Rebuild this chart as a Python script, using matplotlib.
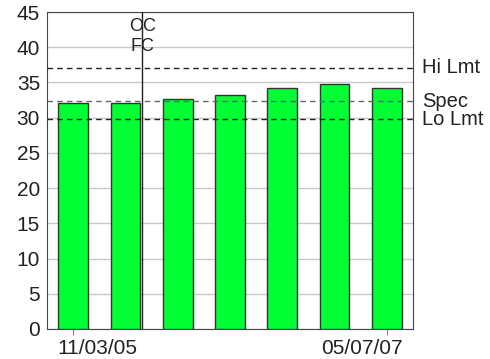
import matplotlib
matplotlib.use("Agg")
import matplotlib.pyplot as plt
from matplotlib.transforms import ScaledTranslation

plt.rcParams['font.family'] = ['Liberation Sans', 'DejaVu Sans']

values = [32.1, 32.1, 32.6, 33.2, 34.2, 34.75, 34.2]
tick_labels = {0: "11/03/05", 6: "05/07/07"}
hi_lmt = 37.1
spec = 32.3
lo_lmt = 29.8
oc_fc_x = 1.32

fig = plt.figure(figsize=(4.9, 3.59), dpi=100)
ax = fig.add_axes([47/490, 1-329/359, 366/490, 317/359])

x = list(range(len(values)))
ax.bar(x, values, width=0.57, color='#00ff33', edgecolor='#333333', linewidth=1, zorder=3)

ax.set_xlim(-0.5, 6.5)
ax.set_ylim(0, 45)
ax.set_yticks(range(0, 46, 5))
ax.yaxis.grid(True, color='#c8c8c8', linewidth=1, zorder=0)
ax.set_axisbelow(True)

ax.set_xticks(list(tick_labels.keys()))
ax.set_xticklabels(list(tick_labels.values()))
ax.tick_params(axis='both', labelsize=15, colors='#222222', length=4)
ax.tick_params(axis='x', colors='#888888', labelcolor='#222222', pad=3)
ax.tick_params(axis='y', length=0, pad=5)

xlabels = ax.get_xticklabels()
xlabels[0].set_ha('left')
xlabels[0].set_transform(xlabels[0].get_transform() + ScaledTranslation(-16/100, 0, fig.dpi_scale_trans))
xlabels[-1].set_ha('right')
xlabels[-1].set_transform(xlabels[-1].get_transform() + ScaledTranslation(16/100, 0, fig.dpi_scale_trans))

for s in ax.spines.values():
    s.set_color('#444444')

ax.axhline(hi_lmt, color='#222222', linestyle=(0, (4, 3)), linewidth=1, zorder=4)
ax.axhline(spec, color='#666666', linestyle=(0, (4, 3)), linewidth=1, zorder=4)
ax.axhline(lo_lmt, color='#222222', linestyle=(0, (4, 3)), linewidth=1, zorder=4)

ax.axvline(oc_fc_x, color='#222222', linewidth=1, zorder=5)
ax.text(oc_fc_x, 42.9, "OC", ha='center', va='center', fontsize=13, color='#222222')
ax.text(oc_fc_x, 40.1, "FC", ha='center', va='center', fontsize=13, color='#222222')

trans = ax.get_yaxis_transform()
ax.text(1.025, hi_lmt, "Hi Lmt", transform=trans, ha='left', va='center', fontsize=14.5, color='#222222', clip_on=False)
ax.text(1.025, spec, "Spec", transform=trans, ha='left', va='center', fontsize=14.5, color='#222222', clip_on=False)
ax.text(1.025, lo_lmt, "Lo Lmt", transform=trans, ha='left', va='center', fontsize=14.5, color='#222222', clip_on=False)

fig.savefig("out.png", dpi=100)
